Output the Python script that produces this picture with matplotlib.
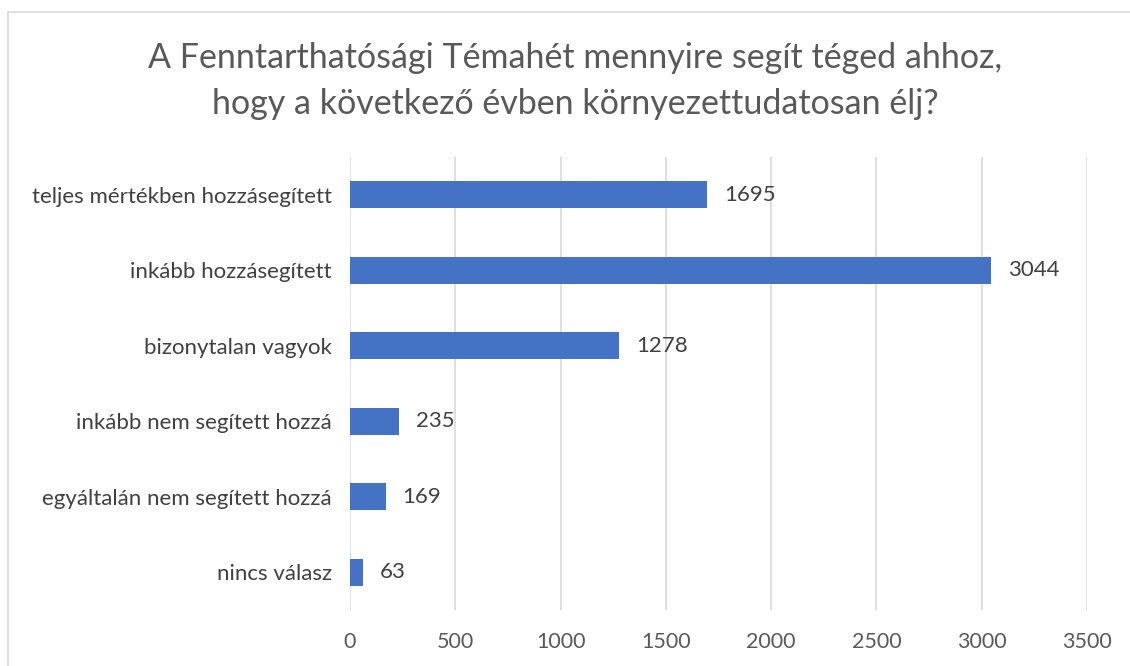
import matplotlib.pyplot as plt
from matplotlib.patches import Rectangle

plt.rcParams['font.family'] = ['Lato', 'DejaVu Sans']

categories = ['teljes mértékben hozzásegített', 'inkább hozzásegített',
              'bizonytalan vagyok', 'inkább nem segített hozzá',
              'egyáltalán nem segített hozzá', 'nincs válasz']
counts = [1695, 3044, 1278, 235, 169, 63]
xticks = [0, 500, 1000, 1500, 2000, 2500, 3000, 3500]

W, H = 1130, 666
fig = plt.figure(figsize=(W / 100, H / 100), dpi=100)

# light chart frame, cut off at the right and bottom
fig.patches.append(Rectangle((8 / W, -0.1), 1.2, 1 - 12 / H + 0.1,
                             transform=fig.transFigure, fill=False,
                             edgecolor='#d9d9d9', linewidth=1.2))

ax = fig.add_axes([350 / W, 1 - 610 / H, (1087 - 350) / W, (610 - 157) / H])

pos = list(range(len(categories)))
ax.barh(pos, counts, height=0.36, color='#4472c4', zorder=3)
for p, v in zip(pos, counts):
    ax.text(v + 80, p, str(v), va='center', ha='left', fontsize=16,
            color='#404040')

ax.set_ylim(len(categories) - 0.5, -0.5)
ax.set_xlim(0, 3500)
ax.set_yticks(pos)
ax.set_yticklabels(categories, fontsize=16, color='#404040')
ax.set_xticks(xticks)
ax.set_xticklabels([str(t) for t in xticks], fontsize=15.5, color='#595959')
ax.tick_params(axis='both', length=0)
ax.tick_params(axis='x', pad=16)
ax.tick_params(axis='y', pad=13)
ax.grid(axis='x', color='#d9d9d9', linewidth=1.2, zorder=0)
for s in ax.spines.values():
    s.set_visible(False)

fig.text(575 / W, 1 - 81 / H,
         'A Fenntarthatósági Témahét mennyire segít téged ahhoz,\n'
         'hogy a következő évben környezettudatosan élj?',
         ha='center', va='center', fontsize=24.5, color='#595959',
         linespacing=1.5)

fig.savefig('out.png', dpi=100, facecolor='white')
